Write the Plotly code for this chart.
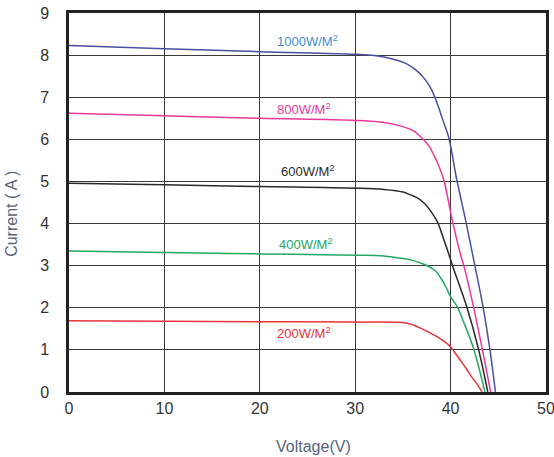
import plotly.graph_objects as go

# Voltage (V) / Current (A) readings for each irradiance level
v_1000 = [0, 10, 20, 30, 32, 34, 35.5, 36.5, 37.3, 38.0, 38.6, 39.2, 39.8, 40.6, 41.6, 42.5, 43.4, 44.1, 44.7]
i_1000 = [8.23, 8.15, 8.08, 8.02, 7.99, 7.90, 7.78, 7.62, 7.43, 7.18, 6.85, 6.45, 6.05, 5.10, 4.05, 3.05, 2.02, 1.04, 0]

v_800 = [0, 10, 20, 30, 32.6, 34.7, 36.1, 37.0, 37.7, 38.3, 38.8, 39.3, 40.2, 41.0, 41.5, 42.4, 43.3, 44.2]
i_800 = [6.62, 6.56, 6.50, 6.45, 6.41, 6.32, 6.20, 6.03, 5.85, 5.60, 5.35, 5.03, 4.05, 3.30, 2.90, 2.02, 1.04, 0]

v_600 = [0, 10, 20, 30, 33, 35, 35.8, 36.6, 37.3, 37.9, 38.6, 39.3, 39.7, 40.2, 41.7, 42.9, 43.9]
i_600 = [4.96, 4.92, 4.88, 4.84, 4.81, 4.75, 4.68, 4.60, 4.47, 4.30, 4.05, 3.61, 3.35, 3.0, 2.02, 1.04, 0]

v_400 = [0, 10, 20, 30, 33, 35, 36.1, 37.0, 37.7, 38.4, 39.1, 39.6, 40.0, 40.7, 41.4, 42.4, 43.6]
i_400 = [3.35, 3.31, 3.28, 3.25, 3.23, 3.17, 3.12, 3.05, 2.98, 2.88, 2.66, 2.45, 2.26, 2.02, 1.64, 1.04, 0]

v_200 = [0, 10, 20, 30, 35.3, 36.2, 37.0, 37.9, 38.9, 39.8, 40.4, 41.0, 41.6, 42.2, 42.8, 43.3]
i_200 = [1.69, 1.68, 1.67, 1.66, 1.64, 1.58, 1.50, 1.40, 1.27, 1.12, 0.95, 0.76, 0.57, 0.36, 0.18, 0]

series_names = ["1000W/M<sup>2</sup>", "800W/M<sup>2</sup>", "600W/M<sup>2</sup>", "400W/M<sup>2</sup>", "200W/M<sup>2</sup>"]
label_x = [25.0, 24.6, 25.0, 24.8, 24.6]
label_y = [8.34, 6.72, 5.25, 3.51, 1.39]

line_colors = ["#4b4f9f", "#e8399a", "#2a2a2a", "#22a862", "#e8333c"]
label_colors = ["#3d8fd1", "#e8399a", "#2a2a2a", "#22a862", "#e8333c"]

x_ticks = [0, 10, 20, 30, 40, 50]
y_ticks = [0, 1, 2, 3, 4, 5, 6, 7, 8, 9]

FONT = "Liberation Sans, Arial, sans-serif"

fig = go.Figure()
data = [(v_1000, i_1000), (v_800, i_800), (v_600, i_600), (v_400, i_400), (v_200, i_200)]
for (vx, iy), name, col in zip(data, series_names, line_colors):
    fig.add_trace(go.Scatter(x=vx, y=iy, mode="lines", name=name,
                             line=dict(color=col, width=1.5, shape="spline", smoothing=1.0),
                             showlegend=False, hoverinfo="skip"))

for name, lx, ly, col in zip(series_names, label_x, label_y, label_colors):
    fig.add_annotation(x=lx, y=ly, text=name, showarrow=False,
                       font=dict(family=FONT, size=13, color=col))

fig.add_annotation(xref="paper", yref="paper", x=0.512, y=-0.145, text="Voltage(V)",
                   showarrow=False, xanchor="center", yanchor="middle",
                   font=dict(family=FONT, size=16, color="#56657a"))
fig.add_annotation(xref="paper", yref="paper", x=-0.1195, y=0.47, text="Current ( A )",
                   showarrow=False, xanchor="center", yanchor="middle", textangle=-90,
                   font=dict(family=FONT, size=16, color="#56657a"))

axis_common = dict(showgrid=True, gridcolor="#3a3a3a", gridwidth=1.4,
                   showline=True, linecolor="#222222", linewidth=2.5, mirror=True,
                   zeroline=False, ticks="", automargin=False, ticklabeloverflow="allow",
                   tickfont=dict(family=FONT, size=16, color="#333333"))

fig.update_xaxes(range=[0, 50], tickvals=x_ticks, ticktext=[str(t) for t in x_ticks],
                 ticklabelstandoff=0, **axis_common)
fig.update_yaxes(range=[0, 9], tickvals=y_ticks, ticktext=[str(t) for t in y_ticks],
                 ticklabelstandoff=14, **axis_common)

fig.update_layout(width=554, height=457, margin=dict(l=69, r=8, t=13, b=65),
                  plot_bgcolor="white", paper_bgcolor="white")

# remove the browser's default 8px body margin so the figure fills the window exactly
fig.write_html("out.html", config={"displayModeBar": False},
               post_script="document.body.style.margin='0';document.body.style.overflow='hidden';")
